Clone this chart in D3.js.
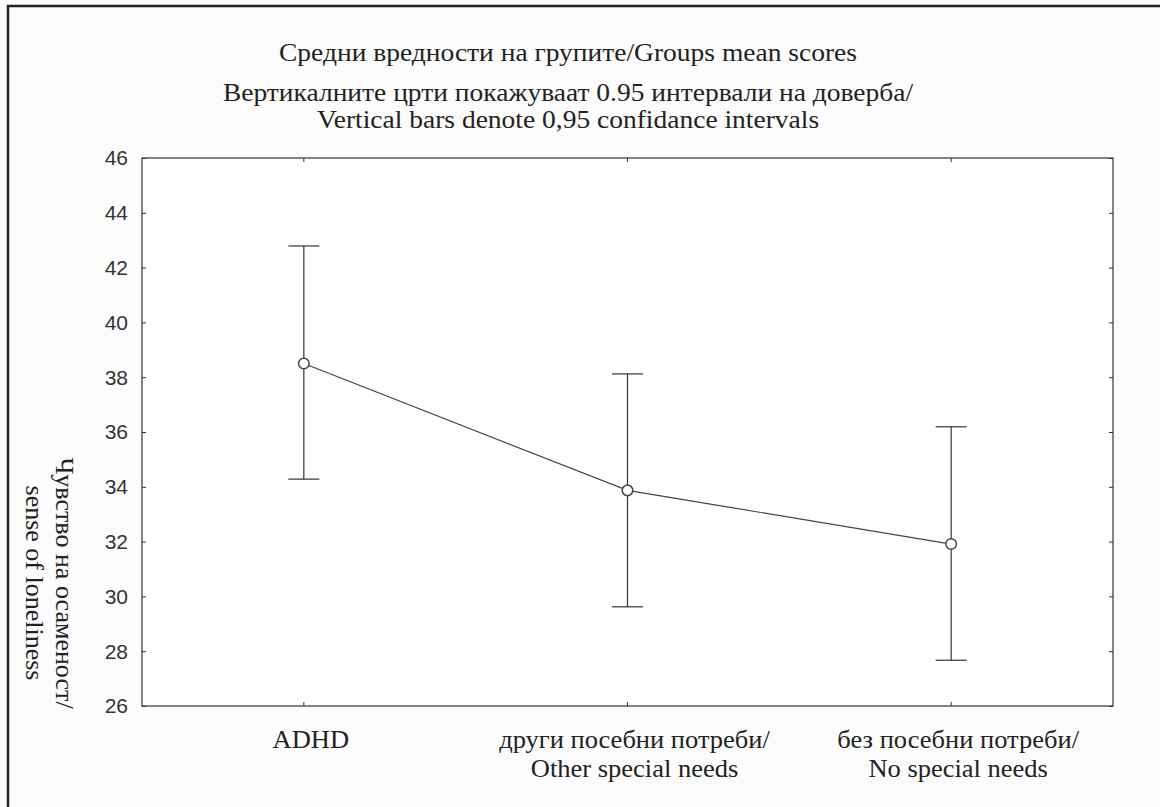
<!DOCTYPE html>
<html><head><meta charset="utf-8">
<script src="https://cdn.jsdelivr.net/npm/d3@7"></script>
<style>html,body{margin:0;padding:0;background:#fcfcfc;}svg{display:block;}</style>
</head><body>
<svg id="c" width="1160" height="807"></svg>
<script>
const categories = [["ADHD"], ["други посебни потреби/", "Other special needs"], ["без посебни потреби/", "No special needs"]];
const means = [38.5, 33.87, 31.91];
const upper = [42.79, 38.12, 36.19];
const lower = [34.28, 29.62, 27.67];
const yTicks = [26, 28, 30, 32, 34, 36, 38, 40, 42, 44, 46];
const titleLines = ["Средни вредности на групите/Groups mean scores", "Вертикалните црти покажуваат 0.95 интервали на доверба/", "Vertical bars denote 0,95 confidance intervals"];
const yLabelLines = ["Чувство на осаменост/", "sense of loneliness"];

const svg = d3.select("#c");
const L = 142, R = 1113, T = 158, B = 706;
const serif = "'Liberation Serif','Times New Roman',serif";
const sans = "'Liberation Sans',Arial,sans-serif";

// outer frame (left and top)
svg.append("path").attr("d", "M8,807 L8,6 L1160,6").attr("fill", "none").attr("stroke", "#222").attr("stroke-width", 2.5);

const x = d3.scaleBand().domain(d3.range(categories.length)).range([L, R]);
const xc = i => x(i) + x.bandwidth() / 2;
const y = d3.scaleLinear().domain([26, 46]).range([B, T]);

svg.append("rect").attr("x", L).attr("y", T).attr("width", R - L).attr("height", B - T)
  .attr("fill", "#fff").attr("stroke", "#333").attr("stroke-width", 1.2);

// axes with inward ticks
const gL = svg.append("g").attr("transform", `translate(${L},0)`)
  .call(d3.axisRight(y).tickValues(yTicks).tickSize(4).tickFormat(""));
const gR = svg.append("g").attr("transform", `translate(${R},0)`)
  .call(d3.axisLeft(y).tickValues(yTicks).tickSize(4).tickFormat(""));
const gB = svg.append("g").attr("transform", `translate(0,${B})`)
  .call(d3.axisTop(x).tickSize(4).tickFormat(""));
const gT = svg.append("g").attr("transform", `translate(0,${T})`)
  .call(d3.axisBottom(x).tickSize(4).tickFormat(""));
[gL, gR, gB, gT].forEach(g => { g.select(".domain").remove(); g.selectAll(".tick line").attr("stroke", "#333"); });

// y tick labels
svg.append("g").selectAll("text").data(yTicks).join("text")
  .attr("x", 128).attr("y", d => y(d)).attr("dy", "0.35em")
  .attr("text-anchor", "end").attr("font-family", sans).attr("font-size", 21).attr("fill", "#333")
  .text(d => d);

// x labels
const xl = svg.append("g").selectAll("text").data(categories).join("text")
  .attr("transform", (d, i) => `translate(${xc(i) + 7},748) scale(1.06,1)`)
  .attr("text-anchor", "middle").attr("font-family", serif).attr("font-size", 25).attr("fill", "#222");
xl.each(function(d) {
  d3.select(this).selectAll("tspan").data(d).join("tspan")
    .attr("x", 0).attr("y", (t, j) => j * 29).text(t => t);
});

// title
svg.append("g").selectAll("text").data(titleLines).join("text")
  .attr("transform", (d, i) => `translate(568,${[61, 101, 128][i]}) scale(1.1,1)`)
  .attr("text-anchor", "middle").attr("font-family", serif).attr("font-size", 25).attr("fill", "#222")
  .text(d => d);

// y label
svg.append("g").selectAll("text").data(yLabelLines).join("text")
  .attr("transform", (d, i) => `translate(${[56, 26][i]},583) rotate(90)`)
  .attr("text-anchor", "middle").attr("font-family", serif).attr("font-size", 26).attr("fill", "#222")
  .text(d => d);

// error bars
const idx = d3.range(categories.length);
const eb = svg.append("g").attr("stroke", "#333").attr("stroke-width", 1.2);
eb.selectAll("line.v").data(idx).join("line").attr("class", "v")
  .attr("x1", xc).attr("x2", xc).attr("y1", i => y(upper[i])).attr("y2", i => y(lower[i]));
eb.selectAll("line.u").data(idx).join("line").attr("class", "u")
  .attr("x1", i => xc(i) - 15.5).attr("x2", i => xc(i) + 15.5).attr("y1", i => y(upper[i])).attr("y2", i => y(upper[i]));
eb.selectAll("line.l").data(idx).join("line").attr("class", "l")
  .attr("x1", i => xc(i) - 15.5).attr("x2", i => xc(i) + 15.5).attr("y1", i => y(lower[i])).attr("y2", i => y(lower[i]));

// mean line
svg.append("path").datum(idx)
  .attr("d", d3.line().x(xc).y(i => y(means[i])))
  .attr("fill", "none").attr("stroke", "#444").attr("stroke-width", 1.2);

svg.append("g").selectAll("circle").data(idx).join("circle")
  .attr("cx", xc).attr("cy", i => y(means[i])).attr("r", 5.3)
  .attr("fill", "#fff").attr("stroke", "#444").attr("stroke-width", 1.5);
</script>
</body></html>
